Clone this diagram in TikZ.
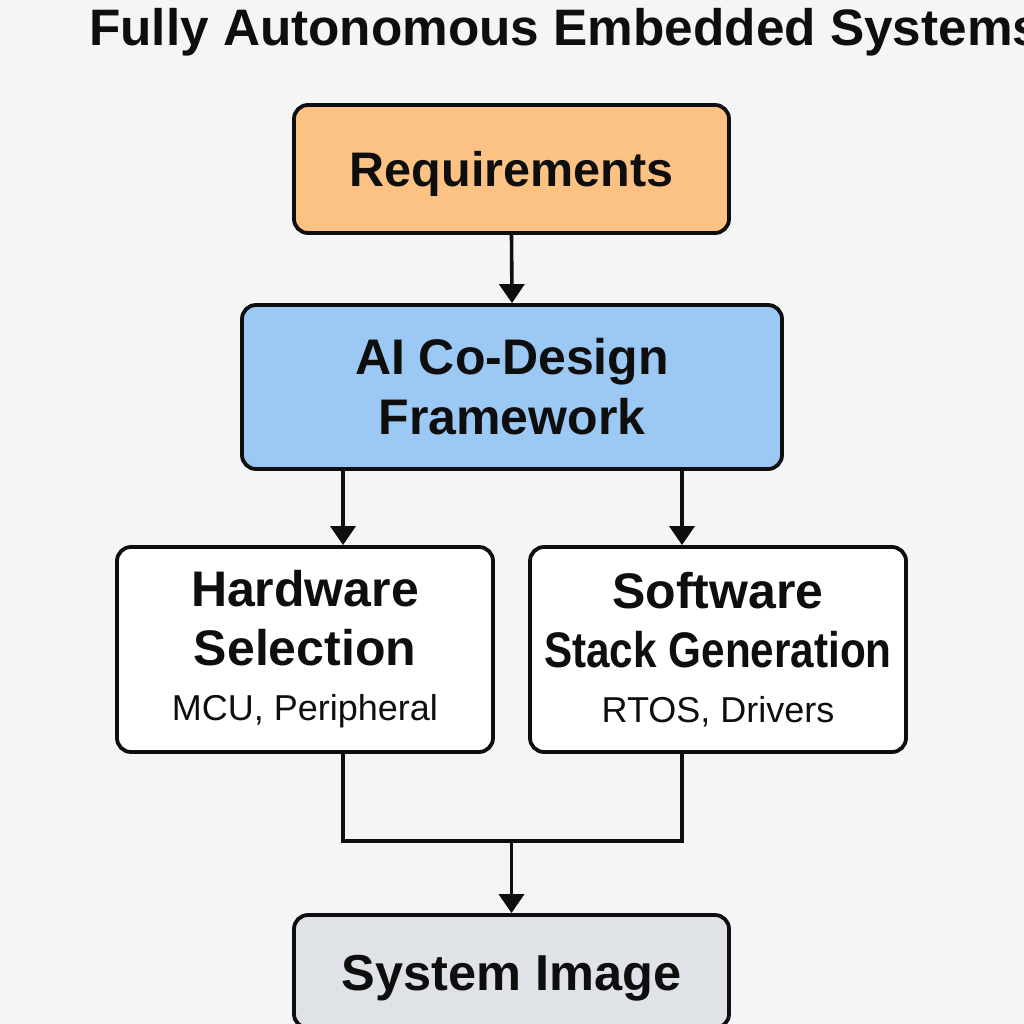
\documentclass[tikz,border=0pt]{standalone}
\usepackage{fontspec}
\usepackage{graphicx}
\setmainfont{Liberation Sans}
\usetikzlibrary{arrows.meta}
\definecolor{bg}{HTML}{F4F5F7}
\definecolor{reqfill}{HTML}{FCC283}
\definecolor{aifill}{HTML}{9CC8F4}
\definecolor{imgfill}{HTML}{DFE2E6}
\definecolor{ink}{HTML}{0E0E0E}
\tikzset{
  box/.style={draw=ink, line width=3.8pt, rounded corners=14pt, inner sep=0pt, align=center, text=ink},
  bigfont/.style={font=\bfseries\fontsize{50}{59}\selectfont},
  conn/.style={draw=ink, line width=3.6pt},
  arr/.style={conn, -{Triangle[width=25pt,length=19pt]}},
}
\begin{document}
\begin{tikzpicture}[x=1pt,y=-1pt]
\fill[bg] (0,0) rectangle (1024,1024);
\useasboundingbox (0,0) rectangle (1024,1024);

\node[anchor=base west, inner sep=0pt, text=ink, font=\bfseries\fontsize{51.3}{60}\selectfont] (title) at (89,46) {Fully Autonomous Embedded Systems};

\node[box, fill=reqfill, font=\bfseries\fontsize{48.5}{58}\selectfont, minimum width=435pt, minimum height=128pt, text height=36pt, text depth=0pt] (req) at (511.5,169) {Requirements};

\node[box, fill=aifill, font=\bfseries\fontsize{50}{60}\selectfont, minimum width=540pt, minimum height=164pt] (ai) at (512,387) {AI Co-Design\\Framework};

\node[box, fill=white, bigfont, minimum width=376pt, minimum height=205pt] (hw) at (305,649.5) {Hardware\\Selection\\[-4pt]{\mdseries\fontsize{36}{43}\selectfont MCU, Peripheral}};

\node[box, fill=white, bigfont, minimum width=376pt, minimum height=205pt] (sw) at (718,649.5) {Software\\\scalebox{0.845}[1]{Stack Generation}\\[-4pt]{\mdseries\fontsize{36}{43}\selectfont RTOS, Drivers}};

\node[box, fill=imgfill, font=\bfseries\fontsize{50.5}{60}\selectfont, minimum width=435pt, minimum height=113pt, text height=37pt, text depth=0pt] (img) at (511.5,971.5) {System Image};

\coordinate (c1) at ([xshift=-169pt]ai.south);
\coordinate (c2) at ([xshift=170pt]ai.south);
\coordinate (join) at (511.5,841);

\draw[arr] (req.south) -- (ai.north);
\draw[arr] (c1) -- (c1 |- hw.north);
\draw[arr] (c2) -- (c2 |- sw.north);
\draw[conn] (hw.south -| c1) |- (join) -| (sw.south -| c2);
\draw[arr] (join) -- (img.north);
\end{tikzpicture}
\end{document}
